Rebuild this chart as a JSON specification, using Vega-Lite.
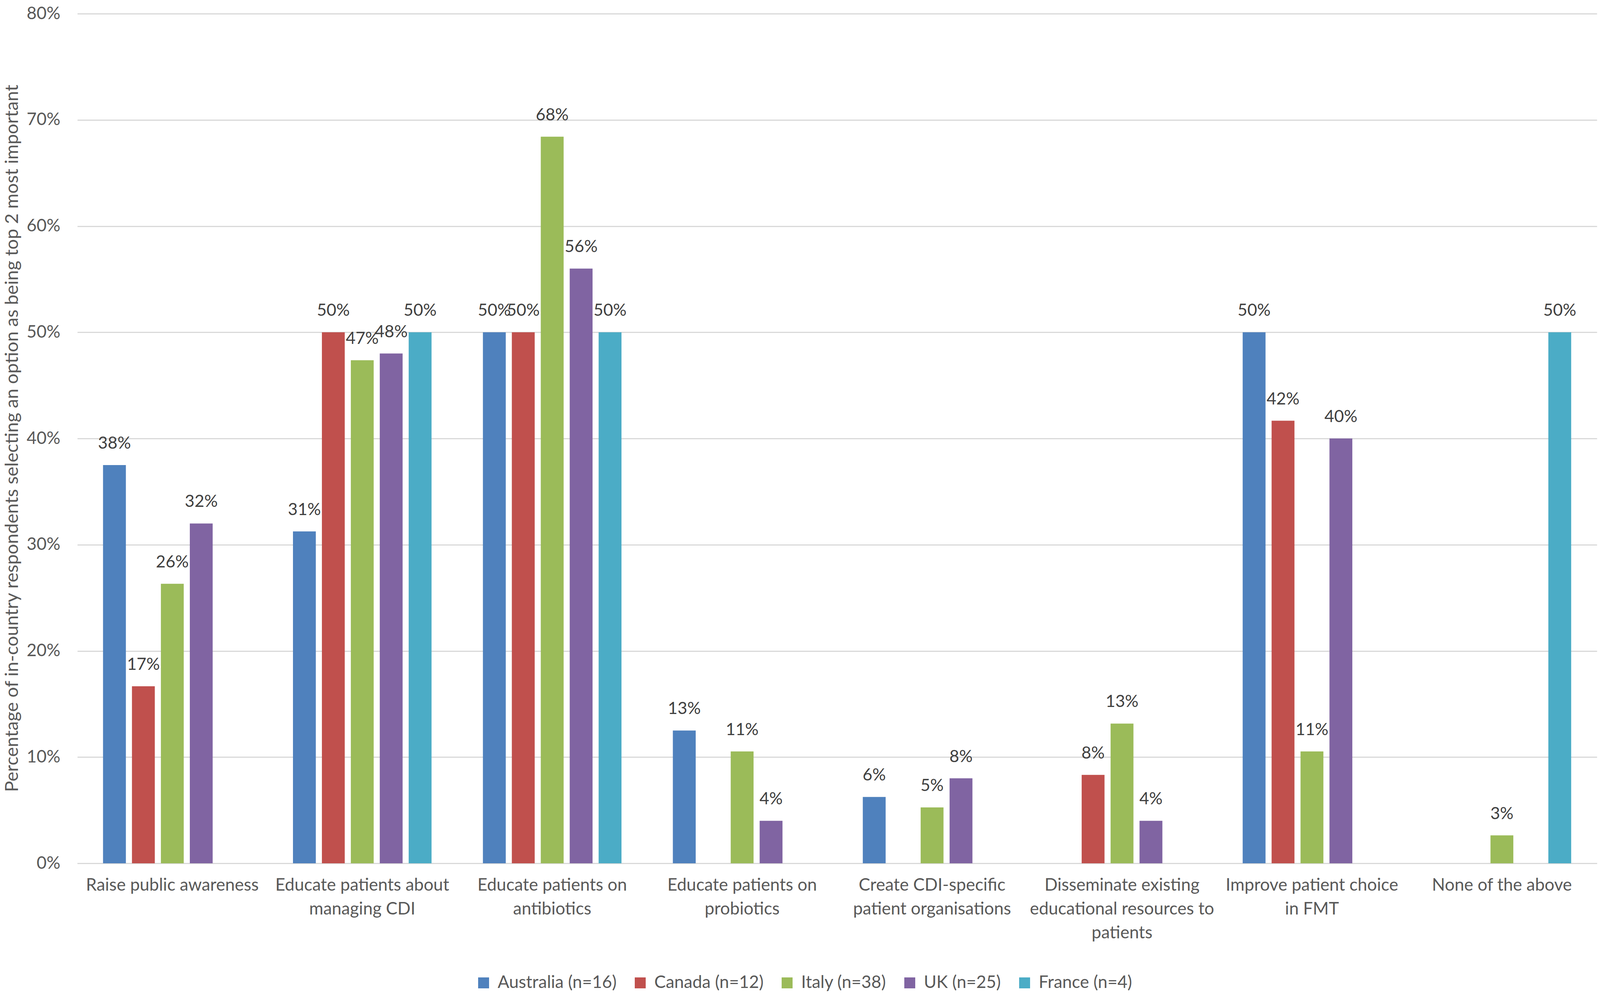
{
  "$schema": "https://vega.github.io/schema/vega-lite/v6.json",
  "description": "Percentage of in-country respondents selecting an option as being top 2 most important",
  "autosize": {"type": "fit", "contains": "padding"},
  "padding": {"left": 7, "top": 13, "right": 8, "bottom": 9},
  "width": 4096,
  "height": 2546,
  "background": "white",
  "config": {
    "font": "Lato",
    "view": {"stroke": null},
    "legend": {"layout": {"bottom": {"anchor": "middle"}}}
  },
  "data": {
    "values": [
      {"option": "Raise public awareness", "country": "Australia (n=16)", "share": 0.375},
      {"option": "Raise public awareness", "country": "Canada (n=12)", "share": 0.1667},
      {"option": "Raise public awareness", "country": "Italy (n=38)", "share": 0.2632},
      {"option": "Raise public awareness", "country": "UK (n=25)", "share": 0.32},
      {"option": "Educate patients about|managing CDI", "country": "Australia (n=16)", "share": 0.3125},
      {"option": "Educate patients about|managing CDI", "country": "Canada (n=12)", "share": 0.5},
      {"option": "Educate patients about|managing CDI", "country": "Italy (n=38)", "share": 0.4737},
      {"option": "Educate patients about|managing CDI", "country": "UK (n=25)", "share": 0.48},
      {"option": "Educate patients about|managing CDI", "country": "France (n=4)", "share": 0.5},
      {"option": "Educate patients on|antibiotics", "country": "Australia (n=16)", "share": 0.5},
      {"option": "Educate patients on|antibiotics", "country": "Canada (n=12)", "share": 0.5},
      {"option": "Educate patients on|antibiotics", "country": "Italy (n=38)", "share": 0.6842},
      {"option": "Educate patients on|antibiotics", "country": "UK (n=25)", "share": 0.56},
      {"option": "Educate patients on|antibiotics", "country": "France (n=4)", "share": 0.5},
      {"option": "Educate patients on|probiotics", "country": "Australia (n=16)", "share": 0.125},
      {"option": "Educate patients on|probiotics", "country": "Italy (n=38)", "share": 0.1053},
      {"option": "Educate patients on|probiotics", "country": "UK (n=25)", "share": 0.04},
      {"option": "Create CDI-specific|patient organisations", "country": "Australia (n=16)", "share": 0.0625},
      {"option": "Create CDI-specific|patient organisations", "country": "Italy (n=38)", "share": 0.0526},
      {"option": "Create CDI-specific|patient organisations", "country": "UK (n=25)", "share": 0.08},
      {"option": "Disseminate existing|educational resources to|patients", "country": "Canada (n=12)", "share": 0.0833},
      {"option": "Disseminate existing|educational resources to|patients", "country": "Italy (n=38)", "share": 0.1316},
      {"option": "Disseminate existing|educational resources to|patients", "country": "UK (n=25)", "share": 0.04},
      {"option": "Improve patient choice|in FMT", "country": "Australia (n=16)", "share": 0.5},
      {"option": "Improve patient choice|in FMT", "country": "Canada (n=12)", "share": 0.4167},
      {"option": "Improve patient choice|in FMT", "country": "Italy (n=38)", "share": 0.1053},
      {"option": "Improve patient choice|in FMT", "country": "UK (n=25)", "share": 0.4},
      {"option": "None of the above", "country": "Italy (n=38)", "share": 0.0263},
      {"option": "None of the above", "country": "France (n=4)", "share": 0.5}
    ]
  },
  "encoding": {
    "x": {
      "field": "option",
      "type": "nominal",
      "sort": null,
      "title": null,
      "scale": {"paddingInner": 0.24, "paddingOuter": 0.12},
      "axis": {
        "labelExpr": "split(datum.label, '|')",
        "labelAngle": 0,
        "labelFontSize": 44,
        "labelColor": "#595959",
        "labelLineHeight": 61,
        "labelBaseline": "top",
        "labelPadding": 34,
        "labelLimit": 0,
        "ticks": false,
        "domainColor": "#D9D9D9",
        "domainWidth": 3,
        "grid": false
      }
    },
    "xOffset": {
      "field": "country",
      "type": "nominal",
      "scale": {
        "domain": ["Australia (n=16)", "Canada (n=12)", "Italy (n=38)", "UK (n=25)", "France (n=4)"],
        "paddingInner": 0.21,
        "paddingOuter": 0.1
      }
    },
    "y": {
      "field": "share",
      "type": "quantitative",
      "scale": {"domain": [0, 0.8], "nice": false},
      "title": "Percentage of in-country respondents selecting an option as being top 2 most important",
      "axis": {
        "format": ".0%",
        "values": [0, 0.1, 0.2, 0.3, 0.4, 0.5, 0.6, 0.7, 0.8],
        "labelFontSize": 44,
        "labelColor": "#595959",
        "labelPadding": 44,
        "ticks": false,
        "domain": false,
        "gridColor": "#D9D9D9",
        "gridWidth": 3,
        "titleFontSize": 47,
        "titleFontWeight": "normal",
        "titleColor": "#595959",
        "titleX": -167,
        "titleY": 1086,
        "titleAngle": -90,
        "titleAlign": "center",
        "titleBaseline": "middle"
      }
    }
  },
  "layer": [
    {
      "mark": {"type": "bar"},
      "encoding": {
        "color": {
          "field": "country",
          "type": "nominal",
          "scale": {
            "domain": ["Australia (n=16)", "Canada (n=12)", "Italy (n=38)", "UK (n=25)", "France (n=4)"],
            "range": ["#4F81BD", "#C0504D", "#9BBB59", "#8064A2", "#4BACC6"]
          },
          "legend": {
            "title": " ",
            "titleOrient": "right",
            "titlePadding": 172,
            "orient": "bottom",
            "direction": "horizontal",
            "offset": 84,
            "symbolType": "square",
            "symbolSize": 784,
            "symbolStrokeWidth": 0,
            "labelFontSize": 44,
            "labelColor": "#595959",
            "labelOffset": 14,
            "columnPadding": 38,
            "labelLimit": 0
          }
        }
      }
    },
    {
      "mark": {"type": "text", "baseline": "alphabetic", "dy": -42, "fontSize": 43, "color": "#404040"},
      "encoding": {
        "text": {"field": "share", "type": "quantitative", "format": ".0%"}
      }
    }
  ]
}
